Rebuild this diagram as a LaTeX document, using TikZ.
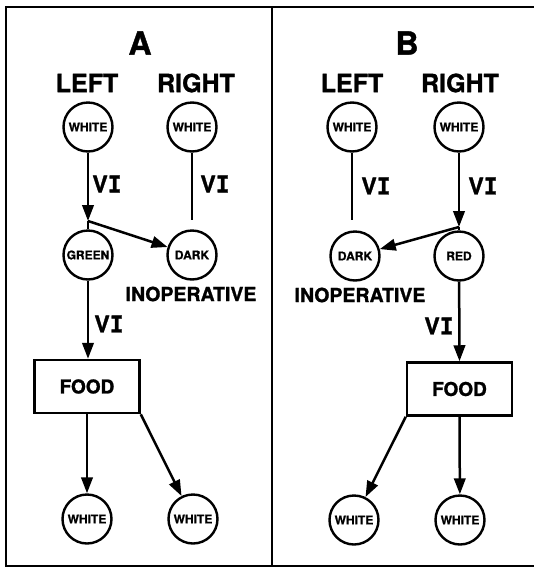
\documentclass[tikz,border=0pt]{standalone}
\usepackage{fontspec}
\setmainfont{TeX Gyre Heros}[BoldFeatures={FakeBold=1.2}]
\newfontfamily\serifI{DejaVu Sans Mono}[BoldFeatures={FakeBold=1.2}]
\usetikzlibrary{arrows.meta}
\begin{document}
\begin{tikzpicture}[x=1pt,y=-1pt,
  conn/.style={line width=2.5pt},
  arr/.style={line width=2.5pt,-{Triangle[length=16pt,width=11.5pt]}},
  state/.style={circle,draw,line width=2.4pt,minimum size=49pt,inner sep=0pt,font=\fontsize{12}{13}\selectfont\bfseries},
  foodbox/.style={rectangle,draw,line width=2.5pt,minimum width=105pt,minimum height=53pt,inner sep=0pt,font=\fontsize{19}{20}\selectfont\bfseries},
  side/.style={font=\fontsize{25}{26}\selectfont\bfseries},
  title/.style={font=\fontsize{32}{34}\selectfont\bfseries},
  vi/.style={font=\fontsize{23}{24}\selectfont\bfseries},
  inop/.style={font=\fontsize{19.5}{20}\selectfont\bfseries},
  frame/.style={line width=2.3pt}]
\useasboundingbox (0,0) rectangle (534,574);
% frame
\coordinate (tl) at (6,7);
\coordinate (tr) at (534,7);
\coordinate (bl) at (6,566);
\coordinate (br) at (534,566);
\coordinate (mt) at (272,7);
\coordinate (mb) at (272,566);
\draw[frame] (tr) -- (tl) -- (bl) -- (br);
\draw[frame] (mt) -- (mb);
% panel A
\node[title] (tA) at (140,43) {A};
\node[side] (lA) at (87,83) {LEFT};
\node[side] (rA) at (196,83) {RIGHT};
\node[state] (wlA) at (88,127) {WHITE};
\node[state] (wrA) at (192,127) {WHITE};
\node[state] (gA) at (88,255) {GREEN};
\node[state] (dA) at (192,255) {DARK};
\node[inop] (iA) at (191,294) {INOPERATIVE};
\node[foodbox] (fA) at (87,386.5) {FOOD};
\node[state] (bwlA) at (87,519) {WHITE};
\node[state] (bwrA) at (193,519) {WHITE};
\coordinate (jA) at (88,221);
\coordinate (eA) at (192,220);
\node[vi] (v1A) at (107,184) {V{\serifI I}};
\node[vi] (v2A) at (215,184) {V{\serifI I}};
\node[vi] (v3A) at (109,324) {V{\serifI I}};
\draw[arr] (wlA) -- (jA);
\draw[conn] (jA) -- (gA);
\draw[arr] (jA) -- (dA);
\draw[conn] (wrA) -- (eA);
\draw[arr] (gA) -- (gA |- fA.north);
\draw[arr] (fA.south) -- (bwlA);
\draw[arr] (fA.south east) -- (bwrA);
% panel B
\node[title] (tB) at (407,43) {B};
\node[side] (lB) at (352,83) {LEFT};
\node[side] (rB) at (460,83) {RIGHT};
\node[state] (wlB) at (352,127) {WHITE};
\node[state] (wrB) at (459,127) {WHITE};
\node[state] (dB) at (355,256) {DARK};
\node[state] (rdB) at (459,256) {RED};
\node[inop] (iB) at (360,295) {INOPERATIVE};
\node[foodbox] (fB) at (459.5,389) {FOOD};
\node[state] (bwlB) at (354,520) {WHITE};
\node[state] (bwrB) at (460,520) {WHITE};
\coordinate (jB) at (459,227);
\coordinate (eB) at (352,220);
\node[vi] (v1B) at (376,186) {V{\serifI I}};
\node[vi] (v2B) at (483,186) {V{\serifI I}};
\node[vi] (v3B) at (439,326) {V{\serifI I}};
\draw[conn] (wlB) -- (eB);
\draw[arr] (wrB) -- (jB);
\draw[conn] (jB) -- (rdB);
\draw[arr] (jB) -- (dB);
\draw[arr] (rdB) -- (fB.north);
\draw[arr] (fB.south west) -- (bwlB);
\draw[arr] (fB.south) -- (bwrB);
\end{tikzpicture}
\end{document}
